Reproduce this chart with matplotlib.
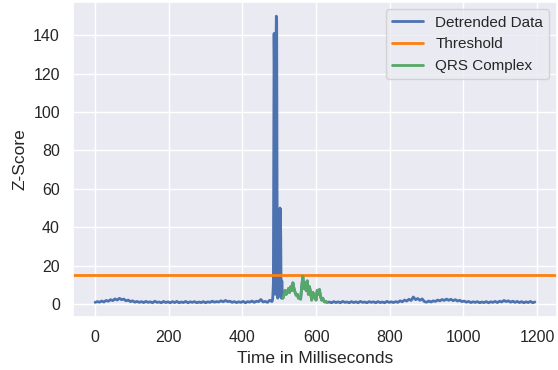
import numpy as np
import matplotlib
matplotlib.use("Agg")
import matplotlib.pyplot as plt
import seaborn as sns

sns.set_theme(style="darkgrid")
plt.rcParams['font.family'] = ['Liberation Sans', 'DejaVu Sans']

# ---- data ----
# baseline before the spike (t = 0..480 ms, every 6 ms)
t_pre = np.arange(0, 481, 6)
v_pre = [0.8, 1.2, 0.9, 1.5, 1.0, 1.8, 1.4, 2.2, 1.7, 2.6,
         2.0, 2.9, 2.2, 2.5, 1.6, 2.0, 1.2, 1.6, 0.9, 1.3,
         0.8, 1.2, 0.7, 1.3, 0.8, 1.1, 0.6, 1.4, 0.8, 1.0,
         0.6, 1.3, 0.7, 1.1, 0.6, 1.2, 0.7, 1.3, 0.6, 1.0,
         0.7, 1.3, 0.6, 1.1, 0.8, 1.2, 0.6, 1.0, 0.7, 1.2,
         0.6, 1.1, 0.8, 1.4, 0.9, 1.2, 1.0, 1.6, 1.1, 1.8,
         1.2, 1.4, 0.8, 1.2, 0.7, 1.1, 0.8, 1.3, 0.6, 1.2,
         0.9, 1.5, 0.8, 1.4, 1.2, 2.3, 1.0, 1.3, 0.8, 1.9,
         1.2]

# spike (t = 481..509 ms, every 1 ms)
t_spike = np.arange(481, 510, 1)
v_spike = [1.5, 2.5, 6, 11, 70, 141, 120, 30, 5, 40,
           130, 150, 148, 60, 6, 3, 25, 48, 20, 4,
           30, 50, 49, 35, 8, 3, 12, 6, 3]

# QRS complex (t = 510..630 ms, every 3 ms)
t_qrs = np.arange(510, 631, 3)
v_qrs = [3, 5, 7, 5, 6, 8, 6, 9, 7, 11,
         8, 6, 4.5, 5, 3, 3.5, 2.5, 9, 14.5, 8,
         11, 7, 12, 5, 9, 6, 2, 6, 5, 3,
         2, 7, 5, 7.5, 4, 2, 3, 1.5, 1, 1.2,
         0.8]

# baseline after (t = 636..1194 ms, every 6 ms)
t_post = np.arange(636, 1195, 6)
v_post = [1.0, 0.6, 1.2, 0.7, 1.1, 0.6, 1.3, 0.8, 1.0, 0.6,
          1.2, 0.7, 1.1, 0.6, 1.3, 0.8, 1.0, 0.6, 1.2, 0.8,
          1.1, 0.6, 1.2, 0.7, 1.0, 0.6, 1.3, 0.8, 1.1, 0.7,
          1.2, 0.8, 1.6, 1.1, 2.0, 1.5, 2.4, 1.8, 3.6, 2.2,
          2.8, 1.9, 2.6, 1.2, 0.9, 1.5, 1.0, 1.6, 1.3, 2.0,
          1.6, 2.3, 1.8, 2.5, 1.9, 2.4, 1.7, 2.2, 1.5, 1.9,
          1.2, 1.5, 0.9, 1.3, 0.7, 1.1, 0.8, 1.2, 0.6, 1.0,
          0.7, 1.2, 0.6, 1.1, 0.8, 1.3, 0.7, 1.4, 1.0, 1.8,
          1.2, 1.6, 0.9, 1.4, 0.8, 1.3, 0.7, 1.2, 0.6, 1.1,
          0.7, 1.3, 0.6, 1.0]

threshold = 15

t_all = np.concatenate([t_pre, t_spike, t_qrs, t_post])
v_all = np.concatenate([v_pre, v_spike, v_qrs, v_post])

fig = plt.figure(figsize=(5.58, 3.70), dpi=100)
ax = fig.add_axes([0.131, 0.143, 0.867, 0.852])

ax.plot(t_all, v_all, color='#4c72b0', lw=2.0, label='Detrended Data')
ax.axhline(threshold, color='#ff7f0e', lw=2.0, label='Threshold')
ax.plot(t_qrs, v_qrs, color='#55a868', lw=2.0, label='QRS Complex')

ax.set_xlabel('Time in Milliseconds', fontsize=12.5)
ax.set_ylabel('Z-Score', fontsize=12.5)
ax.tick_params(labelsize=11.5)
ax.legend(loc='upper right', fontsize=11)

fig.savefig('out.png', dpi=100)
